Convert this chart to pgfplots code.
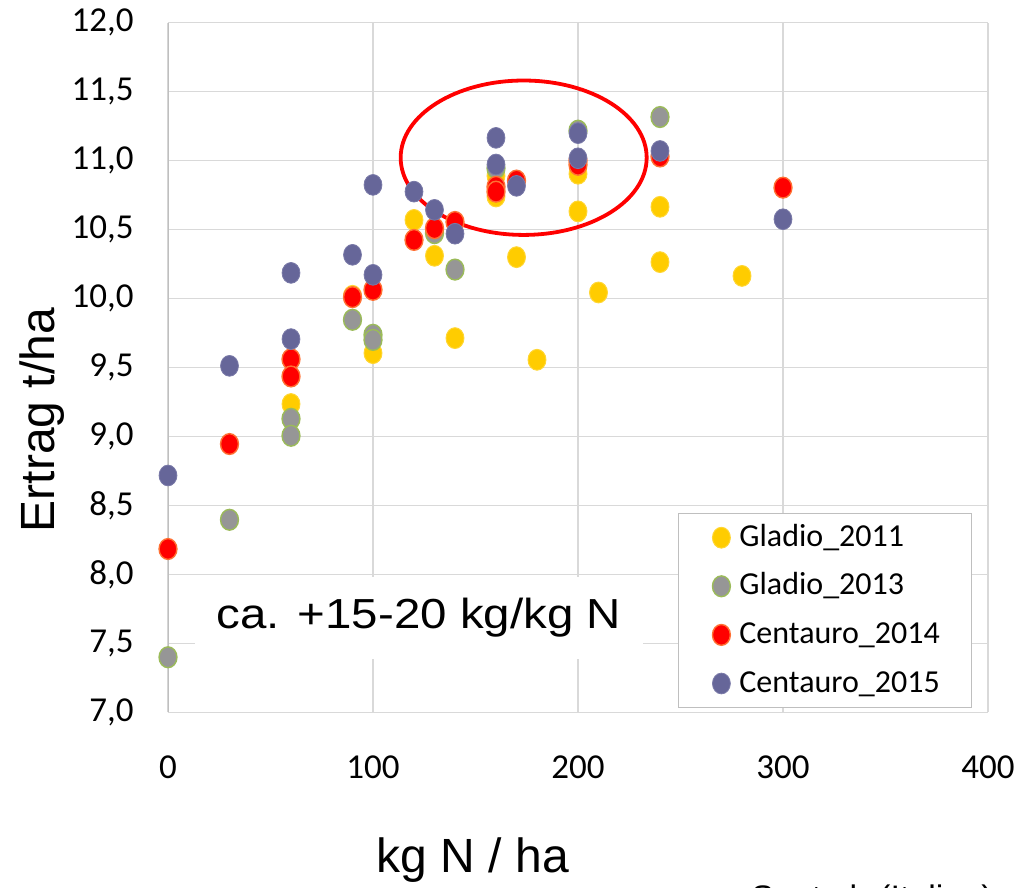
\documentclass[border=0pt]{standalone}
\usepackage{pgfplots}
\pgfplotsset{compat=1.18}
\usepackage{fontspec}
\setmainfont{Carlito}
\newfontfamily\arial{Liberation Sans}
\definecolor{cyellow}{HTML}{FFCC00}
\definecolor{cyellowe}{HTML}{FFD633}
\definecolor{cgray}{HTML}{969696}
\definecolor{cgraye}{HTML}{9BBB59}
\definecolor{cred}{HTML}{FF0000}
\definecolor{crede}{HTML}{FF7033}
\definecolor{cblue}{HTML}{666699}
\definecolor{cbluee}{HTML}{7A7AA8}
\definecolor{gridgray}{HTML}{D9D9D9}
\definecolor{axisgray}{HTML}{BFBFBF}

\pgfplotstableread{
x y
60 9.235
90 10.02
100 9.604
120 10.57
130 10.31
140 9.713
160 10.74
160 10.89
170 10.30
180 9.556
200 10.905
200 10.632
210 10.044
240 10.665
240 10.264
280 10.164
}\gladioA

\pgfplotstableread{
x y
0 7.399
30 8.396
60 9.128
60 9.005
90 9.846
100 9.737
100 9.70
130 10.474
140 10.21
160 10.945
200 11.217
240 11.316
}\gladioB

\pgfplotstableread{
x y
0 8.184
30 8.945
60 9.56
60 9.435
90 10.01
100 10.063
120 10.425
130 10.51
140 10.555
160 10.81
160 10.775
170 10.855
200 11.00
200 10.97
240 11.03
300 10.804
}\centauroA

\pgfplotstableread{
x y
0 8.717
30 9.512
60 10.186
60 9.706
90 10.317
100 10.824
100 10.172
120 10.775
130 10.643
140 10.47
160 11.165
160 10.972
170 10.817
200 11.199
200 11.017
240 11.07
300 10.575
}\centauroB

\begin{document}
\begin{tikzpicture}[x=1pt,y=1pt]
\clip (0,0) rectangle (508.5,444);
\begin{axis}[
  at={(84pt,87.85pt)}, anchor=south west,
  width=410pt, height=344.8pt, scale only axis,
  xmin=0, xmax=400, ymin=7, ymax=12,
  xtick={0,100,200,300,400},
  ytick={7,7.5,8,8.5,9,9.5,10,10.5,11,11.5,12},
  grid=major, grid style={color=gridgray, line width=0.6pt},
  axis line style={draw=none},
  major tick length=0pt,
  tick label style={font=\fontsize{17.5}{20}\selectfont},
  /pgf/number format/assume math mode=true,
  y tick label style={/pgf/number format/.cd, fixed, fixed zerofill, precision=1, use comma, /tikz/.cd, anchor=east, inner sep=0pt, xshift=-17pt},
  x tick label style={anchor=north, inner sep=0pt, yshift=-21.5pt},
  legend style={at={(0.9805,0.289)}, anchor=north east, draw=axisgray, line width=0.6pt, fill=white,
    inner sep=4.3pt, font=\fontsize{16}{19}\selectfont, row sep=8.8pt,
    nodes={inner sep=0pt, text height=12pt, text depth=3.5pt}},
  legend cell align=left,
  legend image code/.code={\path[draw=none] (-17.2pt,0pt) -- (9pt,0pt); \path[#1, only marks, draw=none] plot coordinates {(0pt,0pt)};},
  every axis plot/.append style={only marks, mark=*, mark size=5.2pt},
]
\addplot[mark options={fill=cyellow, draw=cyellowe, line width=0.5pt, xscale=0.86}] table {\gladioA};
\addlegendentry{\makebox[111.7pt][l]{Gladio\_2011}}
\addplot[mark options={fill=cgray, draw=cgraye, line width=0.7pt, xscale=0.86}] table {\gladioB};
\addlegendentry{\makebox[111.7pt][l]{Gladio\_2013}}
\addplot[mark options={fill=cred, draw=crede, line width=0.7pt, xscale=0.86}] table {\centauroA};
\addlegendentry{\makebox[111.7pt][l]{Centauro\_2014}}
\addplot[mark options={fill=cblue, draw=cbluee, line width=0.4pt, xscale=0.86}] table {\centauroB};
\addlegendentry{\makebox[111.7pt][l]{Centauro\_2015}}
\draw[color=axisgray, line width=0.6pt] (rel axis cs:0,0) -- (rel axis cs:0,1);
\draw[color=red, line width=1.9pt] (axis cs:173.5,11.021) ellipse [x radius=61.5pt, y radius=38.6pt];
\node[fill=white, inner sep=0pt, minimum width=224pt, minimum height=41pt,
  font=\arial\fontsize{21}{24}\selectfont] at (axis cs:122.4,7.686) {\scalebox{1.13}[1]{ca. +15-20 kg/kg N}};
\end{axis}
\node[anchor=base, font=\arial\fontsize{24}{28}\selectfont] at (236.5,7.5) {kg N / ha};
\node[anchor=base, rotate=90, font=\arial\fontsize{24}{28}\selectfont] at (27.5,234) {Ertrag t/ha};
\node[anchor=base east, inner sep=0pt, font=\arial\fontsize{17}{20}\selectfont] at (496.5,-11) {S. et al. (Italien)};
\end{tikzpicture}
\end{document}
